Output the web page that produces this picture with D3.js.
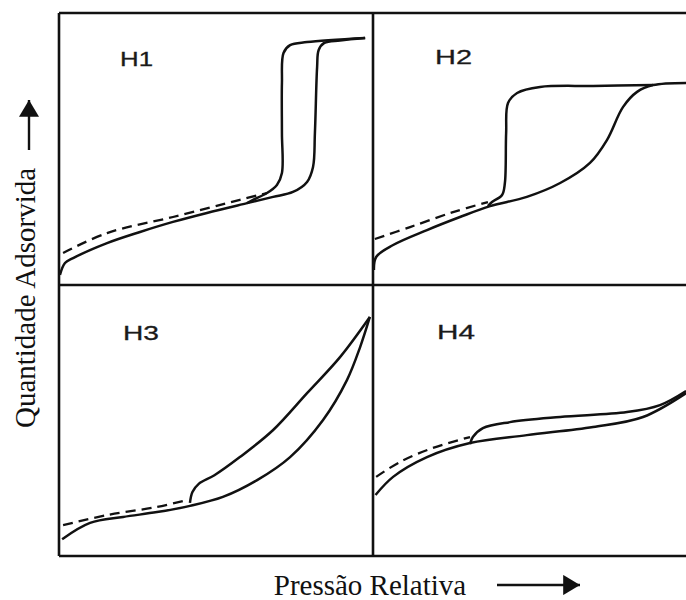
<!DOCTYPE html>
<html>
<head>
<meta charset="utf-8">
<script src="https://cdn.jsdelivr.net/npm/d3@7"></script>
<style>
  body { margin: 0; background: #fff; }
  .frame { stroke: #111; stroke-width: 2.6; fill: none; }
  .branch { stroke: #111; stroke-width: 2.5; fill: none; }
  .dashed { stroke: #111; stroke-width: 2.3; fill: none; stroke-dasharray: 10 6; }
  .tag { font-family: "Liberation Sans", Arial, sans-serif; font-size: 21px; fill: #1a1a1a; stroke: #1a1a1a; stroke-width: 0.3; }
  .axisLabel { font-family: "Liberation Serif", "Times New Roman", serif; font-size: 29px; fill: #111; }
</style>
</head>
<body>
<script>
// relative pressure (x) vs amount adsorbed (y), both 0..1 inside each panel
const h1Adsorption = [
  {x: 0.003, y: 0.037}, {x: 0.019, y: 0.081}, {x: 0.045, y: 0.099},
  {x: 0.153, y: 0.154}, {x: 0.258, y: 0.195}, {x: 0.363, y: 0.232},
  {x: 0.471, y: 0.265}, {x: 0.599, y: 0.301}, {x: 0.682, y: 0.324},
  {x: 0.745, y: 0.342}, {x: 0.790, y: 0.379}, {x: 0.809, y: 0.434},
  {x: 0.815, y: 0.559}, {x: 0.822, y: 0.801}, {x: 0.827, y: 0.864},
  {x: 0.845, y: 0.890}, {x: 0.895, y: 0.899}, {x: 0.975, y: 0.908}
];
const h1Desorption = [
  {x: 0.975, y: 0.908}, {x: 0.790, y: 0.893}, {x: 0.736, y: 0.882},
  {x: 0.715, y: 0.853}, {x: 0.710, y: 0.743}, {x: 0.710, y: 0.559},
  {x: 0.710, y: 0.412}, {x: 0.694, y: 0.368}, {x: 0.662, y: 0.338},
  {x: 0.618, y: 0.313}, {x: 0.599, y: 0.301}
];
const h1Dashed = [
  {x: 0.013, y: 0.118}, {x: 0.153, y: 0.191}, {x: 0.363, y: 0.250},
  {x: 0.576, y: 0.313}, {x: 0.662, y: 0.338}
];

const h2Adsorption = [
  {x: 0.003, y: 0.055}, {x: 0.010, y: 0.103}, {x: 0.064, y: 0.147},
  {x: 0.172, y: 0.202}, {x: 0.277, y: 0.250}, {x: 0.373, y: 0.290},
  {x: 0.490, y: 0.324}, {x: 0.596, y: 0.375}, {x: 0.691, y: 0.449},
  {x: 0.745, y: 0.533}, {x: 0.796, y: 0.654}, {x: 0.841, y: 0.710},
  {x: 0.892, y: 0.735}, {x: 0.997, y: 0.743}
];
const h2Desorption = [
  {x: 0.892, y: 0.735}, {x: 0.701, y: 0.732}, {x: 0.532, y: 0.728},
  {x: 0.459, y: 0.706}, {x: 0.430, y: 0.669}, {x: 0.424, y: 0.559},
  {x: 0.420, y: 0.375}, {x: 0.411, y: 0.331}, {x: 0.379, y: 0.305},
  {x: 0.366, y: 0.290}
];
const h2Dashed = [
  {x: 0.006, y: 0.169}, {x: 0.118, y: 0.213}, {x: 0.255, y: 0.268},
  {x: 0.366, y: 0.305}
];

const h3Adsorption = [
  {x: 0.010, y: 0.062}, {x: 0.099, y: 0.122}, {x: 0.204, y: 0.144},
  {x: 0.312, y: 0.162}, {x: 0.417, y: 0.185}, {x: 0.522, y: 0.218},
  {x: 0.631, y: 0.280}, {x: 0.736, y: 0.365}, {x: 0.841, y: 0.502},
  {x: 0.917, y: 0.649}, {x: 0.959, y: 0.771}, {x: 0.990, y: 0.882}
];
const h3Desorption = [
  {x: 0.990, y: 0.882}, {x: 0.895, y: 0.734}, {x: 0.790, y: 0.601},
  {x: 0.682, y: 0.465}, {x: 0.576, y: 0.365}, {x: 0.495, y: 0.298},
  {x: 0.445, y: 0.266}, {x: 0.425, y: 0.236}, {x: 0.417, y: 0.196}
];
const h3Dashed = [
  {x: 0.013, y: 0.114}, {x: 0.153, y: 0.151}, {x: 0.312, y: 0.181},
  {x: 0.411, y: 0.207}
];

const h4Adsorption = [
  {x: 0.008, y: 0.225}, {x: 0.064, y: 0.292}, {x: 0.172, y: 0.365},
  {x: 0.309, y: 0.417}, {x: 0.490, y: 0.446}, {x: 0.701, y: 0.476},
  {x: 0.860, y: 0.513}, {x: 0.997, y: 0.601}
];
const h4Desorption = [
  {x: 0.997, y: 0.609}, {x: 0.914, y: 0.557}, {x: 0.809, y: 0.531},
  {x: 0.596, y: 0.513}, {x: 0.436, y: 0.494}, {x: 0.350, y: 0.472},
  {x: 0.318, y: 0.439}, {x: 0.309, y: 0.413}
];
const h4Dashed = [
  {x: 0.010, y: 0.292}, {x: 0.086, y: 0.347}, {x: 0.191, y: 0.399},
  {x: 0.309, y: 0.439}
];

const panelNames = ['H1', 'H2', 'H3', 'H4'];
const xLabel = 'Pressão Relativa';
const yLabel = 'Quantidade Adsorvida';

const WIDTH = 686;
const HEIGHT = 600;
const LEFT = 59;
const MID_X = 373;
const RIGHT = 687;
const TOP = 13;
const MID_Y = 285;
const BOTTOM = 556;
const PANEL_W = MID_X - LEFT;

var translate = function(x, y) {
  return "translate(" + x + "," + y + ")";
};

var panels = [
  {name: panelNames[0], x: LEFT,  y: TOP,   h: MID_Y - TOP,    ads: h1Adsorption, des: h1Desorption, dash: h1Dashed, tx: 120, ty: 66, tw: 33},
  {name: panelNames[1], x: MID_X, y: TOP,   h: MID_Y - TOP,    ads: h2Adsorption, des: h2Desorption, dash: h2Dashed, tx: 435, ty: 64, tw: 37},
  {name: panelNames[2], x: LEFT,  y: MID_Y, h: BOTTOM - MID_Y, ads: h3Adsorption, des: h3Desorption, dash: h3Dashed, tx: 123, ty: 340, tw: 36},
  {name: panelNames[3], x: MID_X, y: MID_Y, h: BOTTOM - MID_Y, ads: h4Adsorption, des: h4Desorption, dash: h4Dashed, tx: 437, ty: 339, tw: 38}
];

var drawPanel = function(svg, p) {
  var xScale = d3.scaleLinear().domain([0, 1]).range([0, PANEL_W]);
  var yScale = d3.scaleLinear().domain([0, 1]).range([p.h, 0]);

  var line = d3.line()
      .x(function(d) { return xScale(d.x); })
      .y(function(d) { return yScale(d.y); })
      .curve(d3.curveCatmullRom.alpha(0.5));

  var g = svg.append('g').attr('transform', translate(p.x, p.y));

  g.append('path').attr('class', 'dashed').attr('d', line(p.dash));
  g.append('path').attr('class', 'branch').attr('d', line(p.ads));
  g.append('path').attr('class', 'branch').attr('d', line(p.des));

  svg.append('text')
      .attr('class', 'tag')
      .attr('x', p.tx)
      .attr('y', p.ty)
      .attr('textLength', p.tw)
      .attr('lengthAdjust', 'spacingAndGlyphs')
      .text(p.name);
};

var onload = function() {
  var svg = d3.select('body').append('svg')
      .attr('width', WIDTH)
      .attr('height', HEIGHT);

  svg.append('defs').append('marker')
      .attr('id', 'head')
      .attr('viewBox', '0 0 10 12')
      .attr('refX', 10).attr('refY', 6)
      .attr('markerWidth', 7).attr('markerHeight', 8.4)
      .attr('markerUnits', 'strokeWidth')
      .attr('orient', 'auto')
    .append('path')
      .attr('d', 'M0,0 L10,6 L0,12 Z')
      .attr('fill', '#111');

  panels.forEach(function(p) { drawPanel(svg, p); });

  // frame: no right edge visible in the picture
  var frame = [
    [LEFT, TOP, RIGHT, TOP], [LEFT, BOTTOM, RIGHT, BOTTOM],
    [LEFT, MID_Y, RIGHT, MID_Y], [LEFT, TOP, LEFT, BOTTOM],
    [MID_X, TOP, MID_X, BOTTOM]
  ];
  svg.selectAll('.frame').data(frame)
      .enter().append('line')
      .attr('class', 'frame')
      .attr('x1', function(d) { return d[0]; })
      .attr('y1', function(d) { return d[1]; })
      .attr('x2', function(d) { return d[2]; })
      .attr('y2', function(d) { return d[3]; });

  svg.append('text')
      .attr('class', 'axisLabel')
      .attr('transform', translate(35, 298) + ' rotate(-90)')
      .attr('text-anchor', 'middle')
      .text(yLabel);

  svg.append('line')
      .attr('x1', 29).attr('y1', 150).attr('x2', 29).attr('y2', 100)
      .attr('stroke', '#111').attr('stroke-width', 2.4)
      .attr('marker-end', 'url(#head)');

  svg.append('text')
      .attr('class', 'axisLabel')
      .attr('x', 370)
      .attr('y', 595)
      .attr('text-anchor', 'middle')
      .text(xLabel);

  svg.append('line')
      .attr('x1', 497).attr('y1', 585).attr('x2', 580).attr('y2', 585)
      .attr('stroke', '#111').attr('stroke-width', 2.4)
      .attr('marker-end', 'url(#head)');
};

window.onload = onload;
</script>
</body>
</html>
